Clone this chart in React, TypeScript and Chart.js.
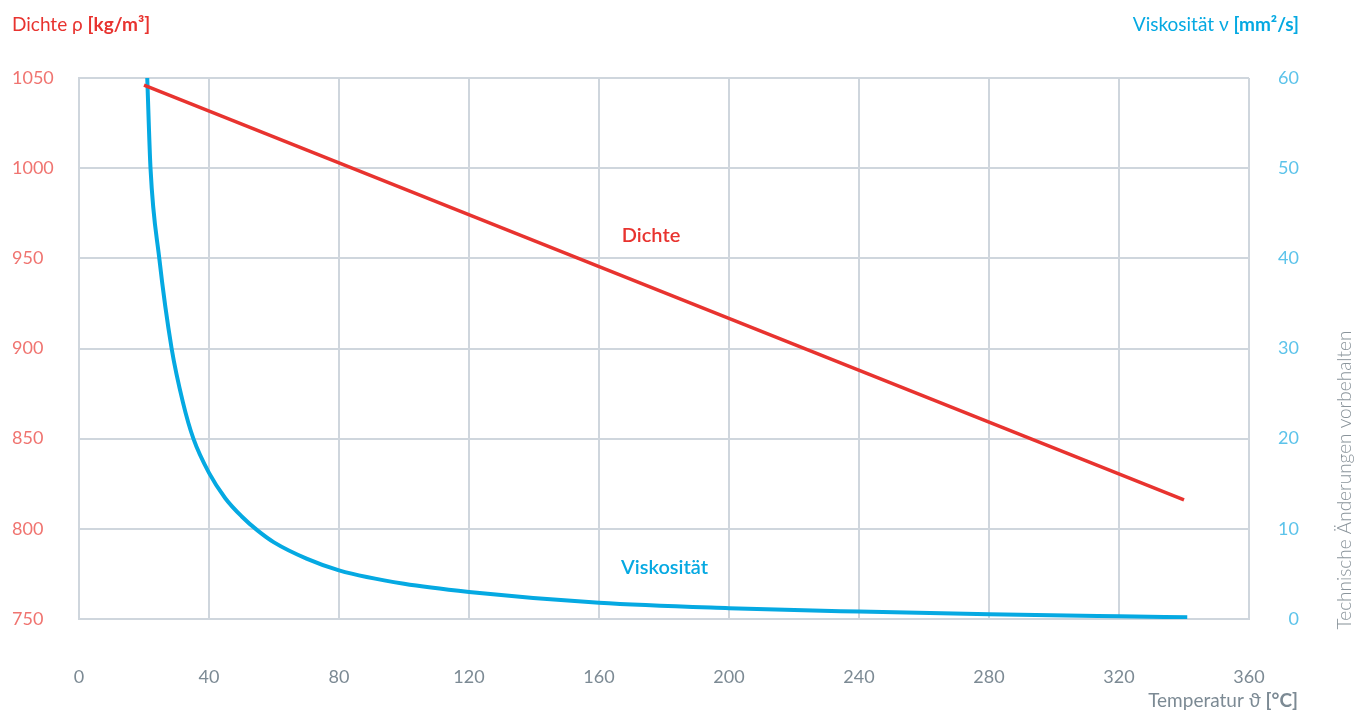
import React, { useEffect, useRef } from "react";
import { Chart, registerables } from "chart.js";

Chart.register(...registerables);

const xTicks = { min: 0, max: 360, step: 40 };
const densityTicks = { min: 750, max: 1050, step: 50 };
const viscosityTicks = { min: 0, max: 60, step: 10 };

const densityTemps = [20, 340];
const densityValues = [1046, 816];

const viscosityTemps = [21, 22, 24.7, 28.5, 32, 35.2, 40, 45, 50, 55, 60, 70, 80, 100, 120, 160, 200, 240, 280, 320, 341];
const viscosityValues = [60, 50, 40, 30, 24, 20, 16.2, 13.4, 11.4, 9.8, 8.5, 6.7, 5.4, 3.9, 3.0, 1.8, 1.2, 0.82, 0.52, 0.3, 0.2];

const densityLabel = { text: "Dichte", x: 167, y: 959 };
const viscosityLabel = { text: "Viskosität", x: 166.8, y: 5.0 };

const RED = "#e8332f";
const RED_TICK = "#f07470";
const BLUE = "#05a9e2";
const BLUE_TICK = "#5cc3ea";
const GREY = "#7c8a94";
const GRID = "#cfd6dd";
const FONT = "Lato, 'Open Sans', sans-serif";

function drawMixed(ctx: CanvasRenderingContext2D, parts: { t: string; w: string }[], x: number, y: number, size: number, color: string, align: "left" | "right") {
  ctx.save();
  ctx.fillStyle = color;
  ctx.textBaseline = "alphabetic";
  ctx.textAlign = "left";
  let total = 0;
  const widths = parts.map((p) => {
    ctx.font = `${p.w} ${size}px ${FONT}`;
    const w = ctx.measureText(p.t).width;
    total += w;
    return w;
  });
  let cx = align === "left" ? x : x - total;
  parts.forEach((p, i) => {
    ctx.font = `${p.w} ${size}px ${FONT}`;
    ctx.fillText(p.t, cx, y);
    cx += widths[i];
  });
  ctx.restore();
}

const textPlugin = {
  id: "textPlugin",
  afterDraw(chart: any) {
    const ctx = chart.ctx as CanvasRenderingContext2D;
    const sx = chart.scales.x;
    const sy = chart.scales.y;
    const sy1 = chart.scales.y1;

    drawMixed(ctx, [{ t: "Dichte ρ ", w: "400" }, { t: "[kg/m³]", w: "700" }], 12, 31, 19, RED, "left");
    drawMixed(ctx, [{ t: "Viskosität ν ", w: "400" }, { t: "[mm²/s]", w: "700" }], 1299, 31, 19, BLUE, "right");
    drawMixed(ctx, [{ t: "Temperatur ϑ ", w: "400" }, { t: "[°C]", w: "700" }], 1298, 707, 19, GREY, "right");

    ctx.save();
    ctx.font = `600 20px ${FONT}`;
    ctx.textAlign = "left";
    ctx.textBaseline = "alphabetic";
    ctx.fillStyle = RED;
    ctx.fillText(densityLabel.text, sx.getPixelForValue(densityLabel.x), sy.getPixelForValue(densityLabel.y));
    ctx.fillStyle = BLUE;
    ctx.fillText(viscosityLabel.text, sx.getPixelForValue(viscosityLabel.x), sy1.getPixelForValue(viscosityLabel.y));
    ctx.restore();

    ctx.save();
    ctx.translate(1345, 480);
    ctx.rotate(-Math.PI / 2);
    ctx.font = `300 19px ${FONT}`;
    ctx.fillStyle = "#8a949b";
    ctx.textAlign = "center";
    ctx.textBaseline = "middle";
    ctx.fillText("Technische Änderungen vorbehalten", 0, 0);
    ctx.restore();
  },
};

export default function App() {
  const ref = useRef<HTMLCanvasElement | null>(null);
  useEffect(() => {
    if (!ref.current) return;
    const chart = new Chart(ref.current, {
      type: "line",
      data: {
        datasets: [
          {
            label: "Dichte",
            data: densityTemps.map((t, i) => ({ x: t, y: densityValues[i] })),
            borderColor: RED,
            borderWidth: 3.5,
            pointRadius: 0,
            yAxisID: "y",
            fill: false,
          },
          {
            label: "Viskosität",
            data: viscosityTemps.map((t, i) => ({ x: t, y: viscosityValues[i] })),
            borderColor: BLUE,
            borderWidth: 4,
            pointRadius: 0,
            yAxisID: "y1",
            cubicInterpolationMode: "monotone",
            fill: false,
          },
        ],
      },
      options: {
        responsive: false,
        animation: false,
        events: [],
        layout: { padding: { left: 12, right: 59, top: 78, bottom: 0 } },
        plugins: { legend: { display: false }, tooltip: { enabled: false } },
        scales: {
          x: {
            type: "linear",
            min: xTicks.min,
            max: xTicks.max,
            ticks: { stepSize: xTicks.step, color: GREY, font: { family: FONT, size: 18 }, padding: 47, callback: (v: any) => String(v) },
            grid: { color: GRID, lineWidth: 2, drawTicks: false },
            border: { display: true, color: GRID, width: 2 },
            afterFit: (s: any) => { s.height = 94; },
          },
          y: {
            type: "linear",
            position: "left",
            min: densityTicks.min,
            max: densityTicks.max,
            ticks: { stepSize: densityTicks.step, color: RED_TICK, font: { family: FONT, size: 18 }, crossAlign: "far", callback: (v: any) => String(v) },
            grid: { color: GRID, lineWidth: 2, drawTicks: false },
            border: { display: true, color: GRID, width: 2 },
            afterFit: (s: any) => { s.width = 67; },
          },
          y1: {
            type: "linear",
            position: "right",
            min: viscosityTicks.min,
            max: viscosityTicks.max,
            ticks: { stepSize: viscosityTicks.step, color: BLUE_TICK, font: { family: FONT, size: 18 }, crossAlign: "far", callback: (v: any) => String(v) },
            grid: { display: false, drawTicks: false },
            border: { display: false },
            afterFit: (s: any) => { s.width = 50; },
          },
        },
      },
      plugins: [textPlugin],
    } as any);
    return () => chart.destroy();
  }, []);
  return (
    <div style={{ position: "absolute", left: 0, top: 0, width: 1358, height: 713, background: "#fff" }}>
      <canvas ref={ref} width={1358} height={713} style={{ display: "block" }} />
    </div>
  );
}
